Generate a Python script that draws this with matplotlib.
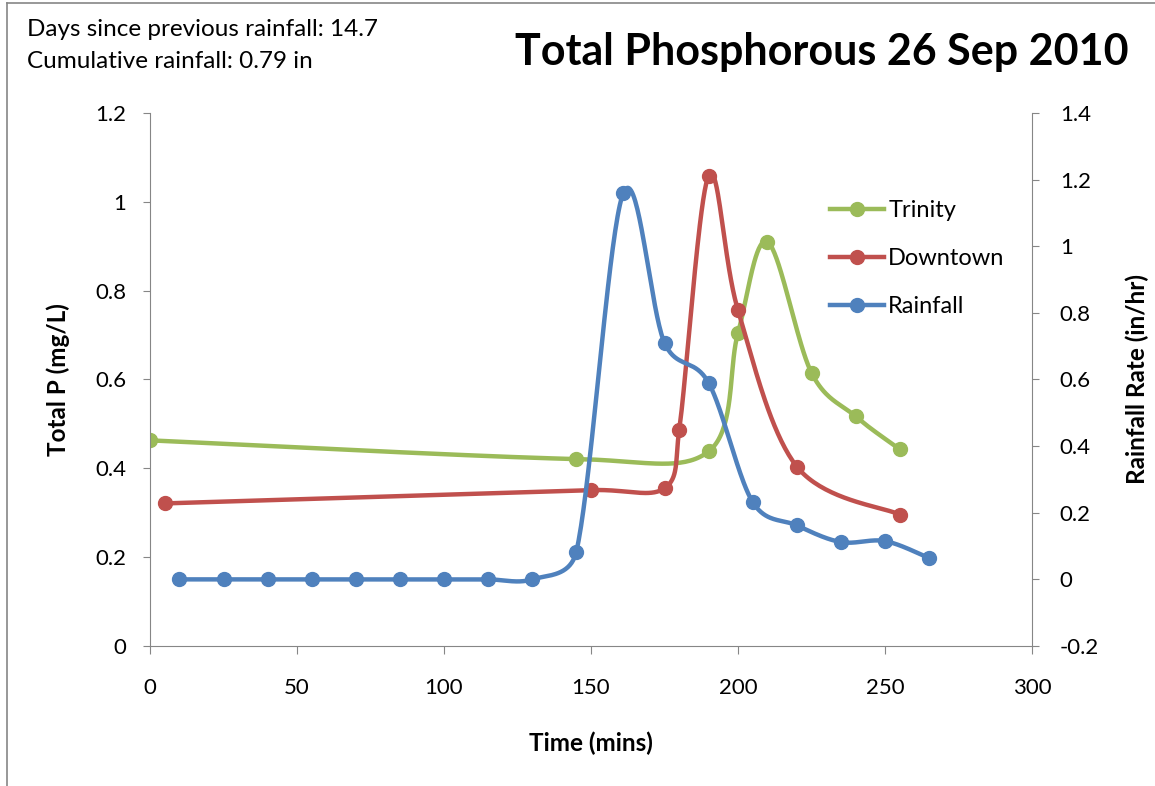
import matplotlib
matplotlib.use("Agg")
import matplotlib.pyplot as plt
import numpy as np
from matplotlib.lines import Line2D

plt.rcParams['font.family'] = ['Lato', 'DejaVu Sans']

# data
trinity_t = [0, 145, 190, 200, 210, 225, 240, 255]
trinity_p = [0.463, 0.421, 0.438, 0.705, 0.910, 0.615, 0.517, 0.443]

downtown_t = [5, 150, 175, 180, 190, 200, 220, 255]
downtown_p = [0.321, 0.351, 0.355, 0.486, 1.059, 0.756, 0.404, 0.296]

rain_t = [10, 25, 40, 55, 70, 85, 100, 115, 130, 145, 161, 175, 190, 205, 220, 235, 250, 265]
rain_r = [0, 0, 0, 0, 0, 0, 0, 0, 0, 0.083, 1.16, 0.71, 0.59, 0.232, 0.162, 0.112, 0.115, 0.064]

green = '#9BBB59'
red = '#C0504D'
blue = '#4F81BD'
grey = '#868686'

W, H = 1155, 786
AX_L, AX_R, AX_T, AX_B = 150, 1032, 113, 646


def smooth(x, y, xr, yr, n=40):
    # excel-like smoothed line: bezier segments, catmull-rom tangents,
    # clamped to half the segment length (done in pixel units)
    sx = (AX_R - AX_L) / (xr[1] - xr[0])
    sy = (AX_B - AX_T) / (yr[1] - yr[0])
    P = np.column_stack([np.asarray(x, float) * sx, np.asarray(y, float) * sy])
    P = np.vstack([P[0], P, P[-1]])
    out = []
    s = np.linspace(0, 1, n)[:, None]
    for i in range(1, len(P) - 2):
        p0, p1, p2, p3 = P[i - 1], P[i], P[i + 1], P[i + 2]
        seg = np.hypot(*(p2 - p1))
        t1 = (p2 - p0) / 6
        t2 = (p3 - p1) / 6
        for t in (t1, t2):
            L = np.hypot(*t)
            if L > 0.5 * seg:
                t *= 0.5 * seg / L
        c1 = p1 + t1
        c2 = p2 - t2
        b = (1 - s) ** 3 * p1 + 3 * (1 - s) ** 2 * s * c1 + 3 * (1 - s) * s ** 2 * c2 + s ** 3 * p2
        out.append(b)
    out = np.vstack(out)
    return out[:, 0] / sx, out[:, 1] / sy


fig = plt.figure(figsize=(W / 100, H / 100), dpi=100)
ax = fig.add_axes([AX_L / W, 1 - AX_B / H, (AX_R - AX_L) / W, (AX_B - AX_T) / H])
ax2 = ax.twinx()

lw = 3.2
ms = 10
cx, cy = smooth(trinity_t, trinity_p, (0, 300), (0, 1.2))
ax.plot(cx, cy, color=green, lw=lw, solid_capstyle='round')
ax.plot(trinity_t, trinity_p, 'o', color=green, ms=ms)
cx, cy = smooth(downtown_t, downtown_p, (0, 300), (0, 1.2))
ax.plot(cx, cy, color=red, lw=lw, solid_capstyle='round')
ax.plot(downtown_t, downtown_p, 'o', color=red, ms=ms)
cx, cy = smooth(rain_t, rain_r, (0, 300), (-0.2, 1.4))
ax2.plot(cx, cy, color=blue, lw=lw, solid_capstyle='round')
ax2.plot(rain_t, rain_r, 'o', color=blue, ms=ms)

ax.set_xlim(0, 300)
ax.set_ylim(0, 1.2)
ax2.set_ylim(-0.2, 1.4)
ax.set_xticks(np.arange(0, 301, 50))
ax.set_yticks(np.arange(0, 1.21, 0.2))
ax.set_yticklabels(['0', '0.2', '0.4', '0.6', '0.8', '1', '1.2'])
ax2.set_yticks(np.arange(-0.2, 1.41, 0.2))
ax2.set_yticklabels(['-0.2', '0', '0.2', '0.4', '0.6', '0.8', '1', '1.2', '1.4'])

for a in (ax, ax2):
    for sp in a.spines.values():
        sp.set_color(grey)
    a.spines['top'].set_visible(False)
ax.spines['right'].set_visible(False)
ax2.spines['left'].set_visible(False)
ax2.spines['bottom'].set_visible(False)

ax.tick_params(axis='y', direction='out', length=5, color=grey, labelsize=16, pad=12)
ax.tick_params(axis='x', direction='out', length=6, color=grey, labelsize=16, pad=17)
ax2.tick_params(axis='y', direction='out', length=5, color=grey, labelsize=16, pad=15)

ax.set_xlabel('Time (mins)', fontsize=17.5, fontweight='bold', labelpad=24)
ax.set_ylabel('Total P (mg/L)', fontsize=17.5, fontweight='bold', labelpad=18)
ax2.set_ylabel('Rainfall Rate (in/hr)', fontsize=17.5, fontweight='bold', labelpad=19)

fig.text(822 / W, 1 - 52 / H, 'Total Phosphorous 26 Sep 2010', fontsize=31,
         fontweight='bold', ha='center', va='center')
fig.text(27 / W, 1 - 30 / H, 'Days since previous rainfall: 14.7', fontsize=17.5,
         ha='left', va='center')
fig.text(27 / W, 1 - 62 / H, 'Cumulative rainfall: 0.79 in', fontsize=17.5,
         ha='left', va='center')

handles = [Line2D([], [], color=c, lw=lw, marker='o', ms=ms) for c in (green, red, blue)]
leg = fig.legend(handles, ['Trinity', 'Downtown', 'Rainfall'], loc='upper left',
                 bbox_to_anchor=(830 / W, 1 - 200 / H), bbox_transform=fig.transFigure,
                 frameon=False, fontsize=17, handlelength=2.3, handletextpad=0.17,
                 labelspacing=1.15, borderpad=0, borderaxespad=0)

# outer chart frame (only left and top visible)
fig.add_artist(Line2D([7 / W, 7 / W], [0, 1 - 3 / H], color=grey, lw=1.2))
fig.add_artist(Line2D([7 / W, 1], [1 - 3 / H, 1 - 3 / H], color=grey, lw=1.2))

plt.savefig('out.png', dpi=100)
